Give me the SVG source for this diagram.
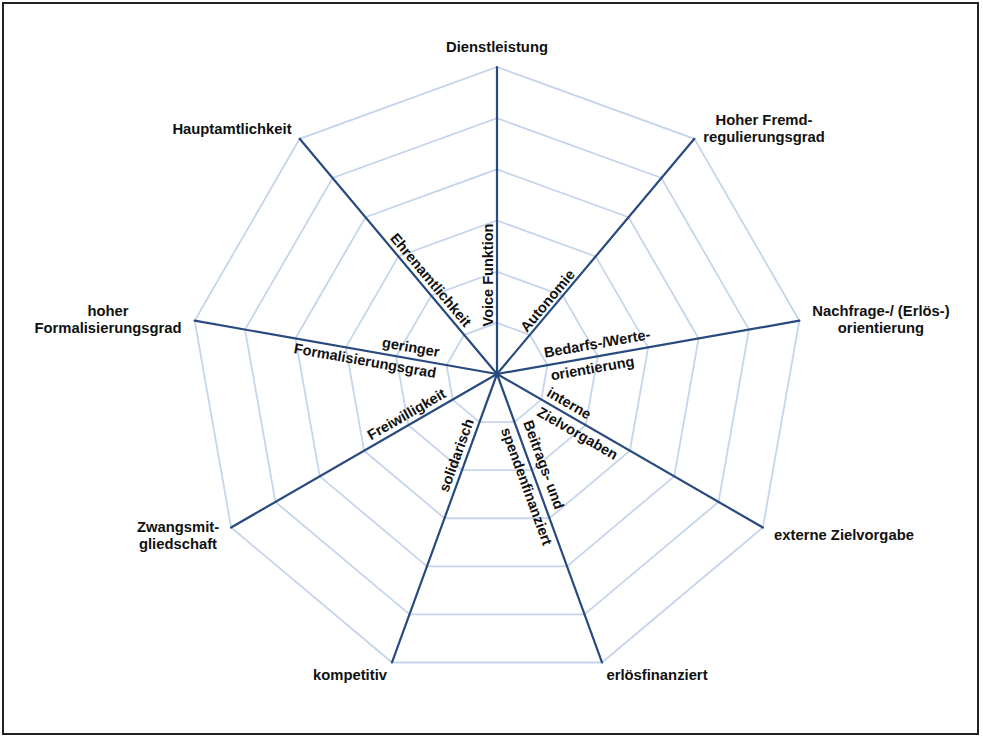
<svg xmlns="http://www.w3.org/2000/svg" width="983" height="739" viewBox="0 0 983 739">
<style>
.ring{fill:none;stroke:#c6d5eb;stroke-width:1.8}
.axis{stroke:#284a7e;stroke-width:2.2;stroke-linecap:round}
.lbl{font-family:"Liberation Sans",Arial,sans-serif;font-weight:bold;font-size:14.8px;fill:#111;text-anchor:middle}
.in{font-family:"Liberation Sans",Arial,sans-serif;font-weight:bold;font-size:14.5px;fill:#111;text-anchor:middle}
</style>
<rect x="3" y="3" width="975" height="731" fill="#fff" stroke="#222" stroke-width="2"/>
<g id="grid" transform="translate(497,374)">
<polygon class="ring" points="0,-51.17 32.89,-39.2 50.39,-8.89 44.31,25.58 17.5,48.08 -17.5,48.08 -44.31,25.58 -50.39,-8.89 -32.89,-39.2"/>
<polygon class="ring" points="0,-102.33 65.78,-78.39 100.78,-17.77 88.62,51.17 35,96.16 -35,96.16 -88.62,51.17 -100.78,-17.77 -65.78,-78.39"/>
<polygon class="ring" points="0,-153.5 98.67,-117.59 151.17,-26.66 132.94,76.75 52.5,144.24 -52.5,144.24 -132.94,76.75 -151.17,-26.66 -98.67,-117.59"/>
<polygon class="ring" points="0,-204.67 131.56,-156.78 201.56,-35.54 177.25,102.33 70,192.32 -70,192.32 -177.25,102.33 -201.56,-35.54 -131.56,-156.78"/>
<polygon class="ring" points="0,-255.83 164.45,-195.98 251.95,-44.43 221.56,127.92 87.5,240.4 -87.5,240.4 -221.56,127.92 -251.95,-44.43 -164.45,-195.98"/>
<polygon class="ring" points="0,-307 197.34,-235.17 302.34,-53.31 265.87,153.5 105,288.48 -105,288.48 -265.87,153.5 -302.34,-53.31 -197.34,-235.17"/>
</g>
<g id="connectors" transform="translate(497,374)">
<line class="axis" x1="0" y1="0" x2="0" y2="-307"/>
<line class="axis" x1="0" y1="0" x2="197.34" y2="-235.17"/>
<line class="axis" x1="0" y1="0" x2="302.34" y2="-53.31"/>
<line class="axis" x1="0" y1="0" x2="265.87" y2="153.5"/>
<line class="axis" x1="0" y1="0" x2="105" y2="288.48"/>
<line class="axis" x1="0" y1="0" x2="-105" y2="288.48"/>
<line class="axis" x1="0" y1="0" x2="-265.87" y2="153.5"/>
<line class="axis" x1="0" y1="0" x2="-302.34" y2="-53.31"/>
<line class="axis" x1="0" y1="0" x2="-197.34" y2="-235.17"/>
</g>
<g id="node-dienstleistung">
<text class="lbl" x="497" y="51.5">Dienstleistung</text>
<text class="in" transform="translate(492.7,275) rotate(-90)">Voice Funktion</text>
</g>
<g id="node-fremdregulierung">
<text class="lbl" x="764" y="125">Hoher Fremd-</text>
<text class="lbl" x="764" y="142">regulierungsgrad</text>
<text class="in" transform="translate(551.4,303.9) rotate(-50)">Autonomie</text>
</g>
<g id="node-nachfrage">
<text class="lbl" x="881" y="316">Nachfrage-/ (Erlös-)</text>
<text class="lbl" x="881" y="333">orientierung</text>
<text class="in" transform="translate(598,348.3) rotate(-10)">Bedarfs-/Werte-</text>
<text class="in" transform="translate(593.3,373.2) rotate(-10)">orientierung</text>
</g>
<g id="node-zielvorgabe">
<text class="lbl" x="844" y="540">externe Zielvorgabe</text>
<text class="in" transform="translate(566.6,407.6) rotate(30)">interne</text>
<text class="in" transform="translate(575.2,437.6) rotate(30)">Zielvorgaben</text>
</g>
<g id="node-erloesfinanziert">
<text class="lbl" x="657" y="680">erlösfinanziert</text>
<text class="in" transform="translate(539.1,466.5) rotate(70)">Beitrags- und</text>
<text class="in" transform="translate(522,488.1) rotate(70)">spendenfinanziert</text>
</g>
<g id="node-kompetitiv">
<text class="lbl" x="350" y="680">kompetitiv</text>
<text class="in" transform="translate(461,457) rotate(-70)">solidarisch</text>
</g>
<g id="node-zwangsmitgliedschaft">
<text class="lbl" x="178" y="532">Zwangsmit-</text>
<text class="lbl" x="178" y="548.5">gliedschaft</text>
<text class="in" transform="translate(409,418.5) rotate(-30)">Freiwilligkeit</text>
</g>
<g id="node-formalisierung">
<text class="lbl" x="108" y="316">hoher</text>
<text class="lbl" x="108" y="333">Formalisierungsgrad</text>
<text class="in" transform="translate(410,352) rotate(10)">geringer</text>
<text class="in" transform="translate(364.2,365.6) rotate(10)">Formalisierungsgrad</text>
</g>
<g id="node-hauptamtlichkeit">
<text class="lbl" x="232" y="134">Hauptamtlichkeit</text>
<text class="in" transform="translate(427,283.2) rotate(50)">Ehrenamtlichkeit</text>
</g>
</svg>
